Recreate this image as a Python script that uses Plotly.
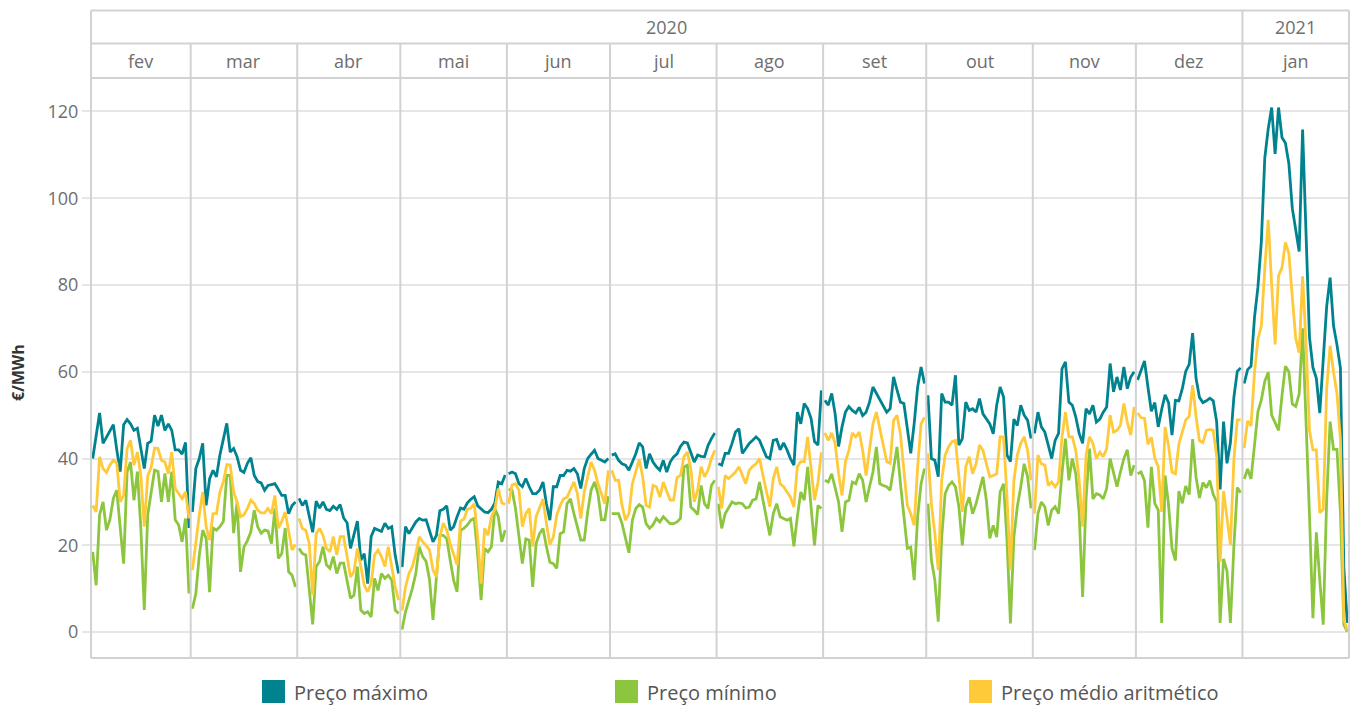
import pandas as pd
import plotly.graph_objects as go

# Rótulos do cabeçalho
meses = ["fev", "mar", "abr", "mai", "jun", "jul", "ago", "set", "out", "nov", "dez", "jan"]
anos = ["2020", "2021"]
series = ["Preço máximo", "Preço mínimo", "Preço médio aritmético"]
cores = ["#00838f", "#8cc63f", "#ffca3a"]
y_ticks = [0, 20, 40, 60, 80, 100, 120]

# Preços diários (€/MWh), de 1 fev 2020 a 31 jan 2021, uma linha por mês
preco_maximo = [
    40, 45, 50.5, 43.5, 45, 46.5, 47.8, 42, 37, 47.8, 49, 48, 46.5, 47, 42, 37.7, 43.5, 44, 50, 47.5, 50, 46.5, 48, 46.5, 42, 42, 41, 43.7, 24,
    27.7, 37.7, 40, 43.5, 29.2, 35.3, 37.3, 35.8, 40.8, 44.6, 48.1, 41.5, 42.3, 40.4, 37.3, 36.8, 38.9, 40.2, 36.1, 34.7, 34.4, 32.7, 33.8, 34, 34.2, 32.9, 31.5, 31.5, 27.3, 29.2, 30,
    30.8, 29.2, 30.4, 26.6, 23, 30.2, 28.6, 30, 28.3, 28, 29, 28.3, 29.4, 26.3, 25.2, 19.3, 22.7, 25.6, 16.6, 18.1, 11.2, 22, 23.9, 23.6, 23.2, 25.1, 23.9, 24.3, 17.7, 13.5,
    15, 24.3, 22.7, 23.9, 25.4, 26.2, 25.8, 25.9, 23.1, 20.8, 22.3, 28, 28.3, 29.1, 23.5, 24.3, 26.6, 28.6, 28.3, 29.8, 30.6, 31.2, 29.1, 28.3, 27.7, 27.5, 28.3, 29.8, 34.6, 34.2, 36.2,
    36.5, 36.9, 36.5, 34.2, 33.5, 35.4, 33.5, 31.9, 31.9, 32.7, 34.6, 29.6, 25.8, 33.5, 33.5, 36.1, 36.1, 37.3, 37.1, 37.7, 36.5, 33.1, 37.7, 40, 41, 41.9, 40, 39.5, 39.2, 40,
    40.8, 41.1, 39.6, 38.8, 38.5, 37.3, 39.2, 41.1, 43.6, 42.7, 37.7, 41.1, 39.2, 38.1, 37.3, 39.6, 36.9, 39.2, 40.4, 41.1, 42.8, 43.8, 43.6, 41.5, 39.2, 40.8, 40.5, 40.4, 43, 44.6, 45.9,
    38.8, 38.5, 41.2, 41.2, 43.5, 46.1, 46.9, 41.2, 42.3, 43.5, 44.2, 45, 44.2, 42.3, 40.4, 40, 44.2, 44.4, 42, 43.6, 42, 40, 38.5, 50.7, 48, 52.7, 51.5, 49.2, 43.9, 43.1, 55.7,
    53.4, 52.3, 55, 50.3, 42.8, 47.3, 50.7, 52, 51.1, 50.5, 51.8, 49.9, 50.7, 53, 56.5, 55, 53.4, 51.9, 50.7, 51.5, 58.8, 55.8, 53, 52.7, 47, 41.2, 48.1, 56.5, 61.1, 57.3,
    54.6, 40, 39.6, 35.8, 55, 53, 53, 52.3, 59.2, 43.1, 44.6, 53, 51.1, 51.5, 50.7, 53.8, 50.3, 49.1, 48, 45.7, 52.3, 56.5, 54.2, 40.8, 39.3, 49.1, 47.6, 52.3, 50, 48.8, 44.6,
    45.8, 50.7, 47.3, 46.1, 43.1, 40, 44.2, 45.8, 60.7, 62.3, 53, 52.3, 49.6, 45.8, 43.5, 51.5, 50.3, 52.3, 48.4, 49.1, 50.7, 51.9, 61.9, 55.4, 58.8, 55.8, 61.1, 56.1, 58.8, 60,
    58.1, 60.5, 62.5, 56.5, 50.9, 52.9, 47.3, 51.3, 54.7, 52.9, 45.4, 53.4, 53.3, 56.1, 60.1, 61.7, 68.9, 58.5, 54.1, 52.9, 53.3, 53.9, 53.3, 48.5, 32.9, 48.5, 38.9, 43.7, 54.1, 60.1, 60.9,
    57.3, 60.5, 61.3, 72.5, 79.5, 90, 109.3, 116, 120.9, 110.2, 120.9, 114, 112.7, 108, 97.7, 93, 87.7, 115.8, 90, 68, 61, 58.5, 50.5, 63.2, 75, 81.7, 70.6, 66.2, 60.9, 15, 2.1,
]

preco_minimo = [
    18.5, 10.8, 27, 30, 23.5, 25.9, 30.8, 32.7, 24, 15.8, 36.9, 39.2, 30.4, 37, 24, 5.1, 27, 32.3, 37.3, 37, 30, 36.6, 30, 37, 25.9, 24.7, 20.8, 26.2, 8.9,
    5.4, 8.9, 17.7, 23.5, 21.6, 9.2, 24, 23.5, 24.3, 25.5, 36.1, 36.1, 22.8, 30, 13.9, 19.6, 21.1, 23.1, 28.1, 24.3, 22.8, 23.5, 23.3, 20.4, 28.5, 17, 18.1, 24, 13.9, 13.1, 10.4,
    19.3, 18.1, 17.8, 10.4, 1.8, 15.1, 16.3, 19.7, 15.5, 14.7, 17.4, 13.5, 15.9, 15.9, 12, 7.8, 8.5, 15.1, 5.1, 4.3, 4.7, 3.5, 12.4, 9.6, 13.5, 12.4, 13.1, 12, 5.1, 4.3,
    0.6, 4.7, 7.4, 10.1, 13.5, 19.7, 17.4, 16.3, 12, 2.8, 12.7, 22.3, 22.3, 21.5, 16.6, 12, 9.3, 23.5, 23.9, 24.7, 25.8, 26.2, 17.8, 7.4, 19.3, 18.5, 19.7, 28.5, 26.6, 20.8, 23.5,
    32.9, 32.7, 28.5, 21.9, 15.8, 21.5, 21.2, 10.4, 20.4, 22.7, 23.9, 19.7, 16.1, 15.8, 14.7, 22.7, 23.1, 29.6, 30.7, 27.3, 24.3, 21.2, 21.2, 27.7, 32.7, 34.6, 31.9, 25.9, 25.9, 31.3,
    27.3, 27.3, 27.3, 25, 21.9, 18.3, 25.8, 28.5, 29.4, 28.8, 25, 23.9, 24.7, 26.2, 25.4, 26.6, 25.8, 25, 25, 25.4, 26.2, 38.1, 38.5, 28.8, 28.1, 27.1, 33.8, 29.6, 28.5, 33.8, 35,
    29.6, 23.9, 27.3, 28.5, 30, 29.6, 29.8, 29.6, 28.6, 28.8, 30.4, 30.7, 34.6, 30.4, 26.6, 22.3, 27.3, 29.6, 26.6, 26.2, 25.8, 26.2, 19.8, 26.6, 32.3, 30.4, 38.1, 28.8, 20, 29.2, 28.5,
    35, 34.6, 36.5, 33.5, 30, 23.1, 30, 30.4, 34.6, 34.2, 36.5, 35, 30, 33.5, 36.9, 42.7, 34.2, 33.8, 33.5, 32.7, 37.3, 42.7, 34.2, 27.3, 19.3, 19.6, 12, 26.6, 34.2, 37.7,
    29.6, 16.6, 12, 2.4, 21.9, 31.9, 33.8, 34.6, 33.5, 28.9, 20, 28.9, 31.1, 27.3, 29.6, 32.7, 35.8, 30.4, 21.6, 24.6, 21.9, 32.3, 34.2, 21.2, 2, 21.9, 28.9, 33.5, 38.8, 35.8, 28.5,
    18.9, 27.3, 30, 28.9, 24.6, 28.1, 28.9, 27.3, 36.5, 44.6, 35, 40, 36.5, 27.3, 8.1, 30.7, 42.3, 30.7, 31.9, 31.6, 30.7, 33.1, 40, 36.9, 33.5, 36.9, 40, 42, 36.1, 38.5,
    36.5, 36.9, 34.9, 24.1, 38.1, 29.7, 28.1, 2.1, 36.1, 29.3, 19.3, 16.5, 32.5, 29.7, 33.7, 31.7, 44.5, 35.7, 30.9, 34.5, 33.3, 34.9, 31.7, 30.1, 2.1, 16.9, 14.1, 2.1, 19.7, 33.3, 32.1,
    35.3, 37.6, 35.3, 42.3, 50.8, 53.5, 57.8, 59.9, 50, 48.3, 46.5, 54.5, 61.3, 60, 52.6, 52, 54.9, 70, 50, 27, 3.2, 23, 12, 1.7, 30.5, 48.5, 42.1, 42.1, 27.7, 1.7, 0.1,
]

preco_medio = [
    29.2, 27.7, 40.4, 37.7, 36.8, 38.5, 39.6, 39, 30, 31.5, 42.3, 44.2, 38.5, 41.5, 36.1, 24.3, 36, 38, 42.4, 42.3, 39.6, 39.2, 36.5, 41.5, 33.1, 32, 30.8, 32.3, 26.2,
    14.3, 20.8, 27, 32.3, 24.3, 21.2, 27.3, 27.3, 32.3, 34.6, 38.6, 38.5, 32.3, 30, 26.6, 27, 28.5, 30.4, 29.6, 28.1, 27.5, 27.5, 28.5, 27.3, 31.5, 24, 25.5, 27.7, 23.2, 18.9, 20.2,
    26.2, 23.9, 23.5, 20.4, 8.5, 22.7, 23.9, 22.3, 19.3, 18.5, 22, 17.8, 22, 22, 17.4, 12.7, 13.9, 19.3, 15.1, 10.8, 9.3, 11.2, 17.8, 18.9, 17.4, 15.1, 19.7, 15.1, 10.5, 7.4,
    5, 10.4, 13.5, 15.1, 18.1, 22, 20.8, 20, 18.9, 14.3, 12.7, 22, 25.1, 23.5, 20.4, 18.1, 15.5, 25.6, 26, 28.3, 28.6, 29.6, 22, 11.2, 23.9, 22.3, 26.6, 28.3, 33.1, 29.8, 29.4,
    29.6, 33.9, 34.2, 32.7, 24.3, 27.3, 28.5, 19.7, 26.6, 28.8, 30.7, 25.1, 20.2, 21.9, 26.9, 29.2, 30.7, 31.1, 32.7, 34.6, 31.9, 26.2, 32.3, 35.8, 39.2, 37.3, 34.2, 31.9, 29.6, 37.3,
    37.3, 35, 35, 29.2, 25.8, 27.3, 34.2, 37.3, 39.8, 35.8, 29.2, 28.8, 33.8, 33.5, 31.1, 34.6, 32.3, 30.4, 30.4, 35.6, 36.1, 40.4, 41.5, 37.7, 30, 32.7, 38.1, 35.8, 37.3, 40, 41.9,
    33.5, 28.5, 36.1, 35.4, 36.1, 36.9, 38.1, 36.1, 34.2, 37.3, 38.2, 38.8, 40, 36.1, 32.3, 28.9, 35.4, 38.1, 34.2, 33.5, 32.3, 31.1, 28.8, 38.1, 39.3, 39.3, 45, 37.7, 30.4, 34.5, 41.5,
    45.9, 44.2, 45.9, 43.5, 36.5, 31.5, 39.3, 41.9, 45.9, 45, 46.1, 41.9, 36.1, 41.9, 48, 50.7, 47, 42.7, 39.3, 38.9, 48.8, 50, 45.7, 37.3, 29.2, 27.3, 24.6, 38.1, 48, 49.5,
    41.2, 29.6, 22.7, 14.3, 35, 40.8, 42.7, 43.9, 44.2, 35.4, 27.7, 38.1, 40.4, 36.5, 38.8, 43.1, 41.9, 38.8, 35.8, 36.1, 36.5, 45, 45, 31.1, 14.3, 35, 40.8, 43.5, 45, 41.9, 35,
    27.3, 40.8, 38.8, 38.5, 33.8, 34.6, 33.5, 34.6, 45, 50.7, 45, 45, 41.9, 35, 24.3, 40.8, 45, 43.5, 40, 41.5, 40.4, 42.3, 50, 46.1, 46.5, 47.7, 52.7, 48.4, 45.4, 51.9,
    50.5, 49.4, 49.3, 43.3, 44.9, 40.1, 38.1, 27.7, 47.3, 42.9, 36.9, 36.5, 43.3, 46.1, 48.9, 49.7, 56.9, 49.7, 44.1, 43.7, 46.5, 46.7, 46.5, 40.5, 16.1, 32.5, 26.1, 20.1, 39.7, 48.9, 48.9,
    42.4, 48.7, 47.5, 59.8, 67.5, 70.6, 83.8, 95, 80, 66.3, 82.1, 84, 89.8, 87.3, 77.2, 67.7, 64.4, 82, 66.5, 46.5, 42, 42, 27.5, 28.3, 56, 66, 60, 55, 44.5, 3, 0.4,
]

dias = pd.date_range("2020-02-01", "2021-01-31", freq="D")
inicios = pd.date_range("2020-02-01", "2021-01-01", freq="MS")
fim = pd.Timestamp("2021-02-01")

GRID = "#e6e6e6"
BORDA = "#d2d2d2"
TEXTO = "#6e6e6e"
FONTE = "'Open Sans', 'Noto Sans', sans-serif"

# Margens do painel (px)
ML, MR, MT, MB = 91, 7, 78, 48
ALTURA, LARGURA = 706, 1356
H_PLOT = ALTURA - MT - MB
W_PLOT = LARGURA - ML - MR


def py(px):
    """Converte uma posição vertical em px para coordenadas 'paper'."""
    return (ALTURA - MB - px) / H_PLOT


def px_x(px):
    return (px - ML) / W_PLOT


def com_quebras(valores):
    """Cada mês é uma linha separada: insere um vazio na mudança de mês."""
    xs, ys = [], []
    mes_anterior = None
    for d, v in zip(dias, valores):
        if mes_anterior is not None and d.month != mes_anterior:
            xs.append(None)
            ys.append(None)
        xs.append(d + pd.Timedelta(hours=12))
        ys.append(v)
        mes_anterior = d.month
    return xs, ys


fig = go.Figure()
for nome, valores, cor in zip(series, [preco_maximo, preco_minimo, preco_medio], cores):
    xs, ys = com_quebras(valores)
    fig.add_trace(go.Scatter(
        x=xs, y=ys, mode="lines", name=nome,
        line=dict(color=cor, width=2.8), connectgaps=False,
        hovertemplate="%{x|%d %b %Y}<br>%{y:.1f} €/MWh<extra>" + nome + "</extra>",
    ))

shapes = []
anotacoes = []

# Linha tracejada no zero
shapes.append(dict(type="line", xref="paper", yref="y", x0=0, x1=1, y0=0, y1=0,
                   line=dict(color="#bdbdbd", width=1.2, dash="3px,3px"), layer="below"))

# Molduras do cabeçalho e do painel
y_topo, y_meio, y_plot = py(10.5), py(43.5), 1.0
for yy in (y_topo, y_meio, y_plot, 0):
    shapes.append(dict(type="line", xref="paper", yref="paper", x0=0, x1=1, y0=yy, y1=yy,
                       line=dict(color=BORDA, width=2)))
for xx in (0, 1):
    shapes.append(dict(type="line", xref="paper", yref="paper", x0=xx, x1=xx, y0=0, y1=y_topo,
                       line=dict(color=BORDA, width=2)))

# Separadores mensais (o de janeiro separa também os anos)
for ini in inicios[1:]:
    topo = y_topo if ini.month == 1 else y_meio
    shapes.append(dict(type="line", xref="x", yref="paper", x0=ini, x1=ini, y0=0, y1=topo,
                       line=dict(color=BORDA, width=2)))

# Nomes dos meses
limites = list(inicios) + [fim]
for i, mes in enumerate(meses):
    centro = limites[i] + (limites[i + 1] - limites[i]) / 2
    anotacoes.append(dict(x=centro, y=(y_meio + y_plot) / 2, xref="x", yref="paper",
                          text=mes, showarrow=False, font=dict(size=18, color=TEXTO, family=FONTE),
                          xanchor="center", yanchor="middle"))

# Anos
jan21 = pd.Timestamp("2021-01-01")
for ano, (a, b) in zip(anos, [(limites[0], jan21), (jan21, fim)]):
    anotacoes.append(dict(x=a + (b - a) / 2, y=(y_topo + y_meio) / 2, xref="x", yref="paper",
                          text=ano, showarrow=False, font=dict(size=18, color=TEXTO, family=FONTE),
                          xanchor="center", yanchor="middle"))

# Título do eixo vertical
anotacoes.append(dict(x=px_x(18), y=py(373), xref="paper", yref="paper", text="<b>€/MWh</b>",
                      textangle=-90, showarrow=False, font=dict(size=16, color="#333333", family=FONTE),
                      xanchor="center", yanchor="middle"))

# Legenda desenhada por baixo do gráfico
leg_x = [262, 615, 969]
for x0, nome, cor in zip(leg_x, series, cores):
    shapes.append(dict(type="rect", xref="paper", yref="paper",
                       x0=px_x(x0), x1=px_x(x0 + 23), y0=py(680), y1=py(703),
                       fillcolor=cor, line=dict(width=0)))
    anotacoes.append(dict(x=px_x(x0 + 30), y=py(692), xref="paper", yref="paper", text=nome,
                          showarrow=False, font=dict(size=20, color="#555555", family=FONTE),
                          xanchor="left", yanchor="middle"))

fig.update_layout(
    width=LARGURA, height=ALTURA,
    margin=dict(l=ML, r=MR, t=MT, b=MB),
    paper_bgcolor="white", plot_bgcolor="white",
    showlegend=False,
    shapes=shapes, annotations=anotacoes,
    font=dict(family=FONTE, color=TEXTO),
    xaxis=dict(type="date", range=[limites[0], fim], showgrid=False, showticklabels=False,
               zeroline=False, showline=False, ticks=""),
    yaxis=dict(range=[-5.96, 127.7], tickvals=y_ticks, showgrid=True, gridcolor=GRID, gridwidth=1.6,
               zeroline=False, showline=False, ticks="outside", ticklen=8, tickcolor=GRID,
               tickwidth=1.6, tickfont=dict(size=18, color=TEXTO, family=FONTE)),
)

fig.write_html("out.html")
